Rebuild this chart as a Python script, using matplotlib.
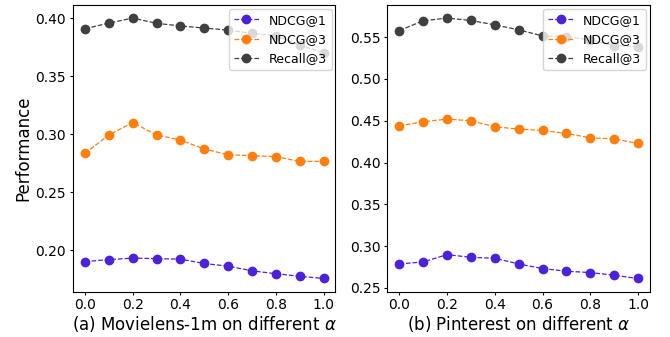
import numpy as np
import matplotlib
matplotlib.use('Agg')
import matplotlib.pyplot as plt

alpha = [0.0, 0.1, 0.2, 0.3, 0.4, 0.5, 0.6, 0.7, 0.8, 0.9, 1.0]

ml_ndcg1 = [0.1904, 0.1922, 0.1934, 0.1930, 0.1925, 0.1888, 0.1865, 0.1825, 0.1800, 0.1778, 0.1759]
ml_ndcg3 = [0.2836, 0.2994, 0.3101, 0.2994, 0.2951, 0.2873, 0.2824, 0.2816, 0.2807, 0.2767, 0.2767]
ml_recall3 = [0.3908, 0.3957, 0.4000, 0.3955, 0.3932, 0.3914, 0.3897, 0.3868, 0.3850, 0.3767, 0.3700]

pin_ndcg1 = [0.2786, 0.2810, 0.2898, 0.2865, 0.2854, 0.2786, 0.2731, 0.2699, 0.2683, 0.2651, 0.2612]
pin_ndcg3 = [0.4440, 0.4488, 0.4520, 0.4500, 0.4428, 0.4400, 0.4384, 0.4348, 0.4296, 0.4284, 0.4228]
pin_recall3 = [0.5580, 0.5697, 0.5729, 0.5700, 0.5648, 0.5588, 0.5516, 0.5508, 0.5468, 0.5400, 0.5388]

series_names = ['NDCG@1', 'NDCG@3', 'Recall@3']
colors = ['#4b22d8', '#ff7f0e', '#404040']

panels = [
    ([ml_ndcg1, ml_ndcg3, ml_recall3], r'(a) Movielens-1m on different $\alpha$'),
    ([pin_ndcg1, pin_ndcg3, pin_recall3], r'(b) Pinterest on different $\alpha$'),
]

plt.rcParams['font.family'] = 'DejaVu Sans'
plt.rcParams['mathtext.fontset'] = 'dejavusans'

fig, axes = plt.subplots(1, 2, figsize=(6.7, 3.37), dpi=100)
fig.subplots_adjust(left=0.109, right=0.970, bottom=0.135, top=0.985, wspace=0.198)

for ax, (vals, xlabel) in zip(axes, panels):
    for v, name, c in zip(vals, series_names, colors):
        ax.plot(alpha, v, '--o', color=c, label=name, linewidth=0.9, markersize=6)
    ax.set_xlabel(xlabel, fontsize=12, labelpad=1)
    ax.set_xticks([0.0, 0.2, 0.4, 0.6, 0.8, 1.0])
    ax.tick_params(labelsize=10, length=2.5, pad=2.4)
    ax.legend(loc='upper right', fontsize=9, borderaxespad=0.3)

axes[0].set_ylabel('Performance', fontsize=12, labelpad=2)

plt.savefig('out.png', dpi=100)
